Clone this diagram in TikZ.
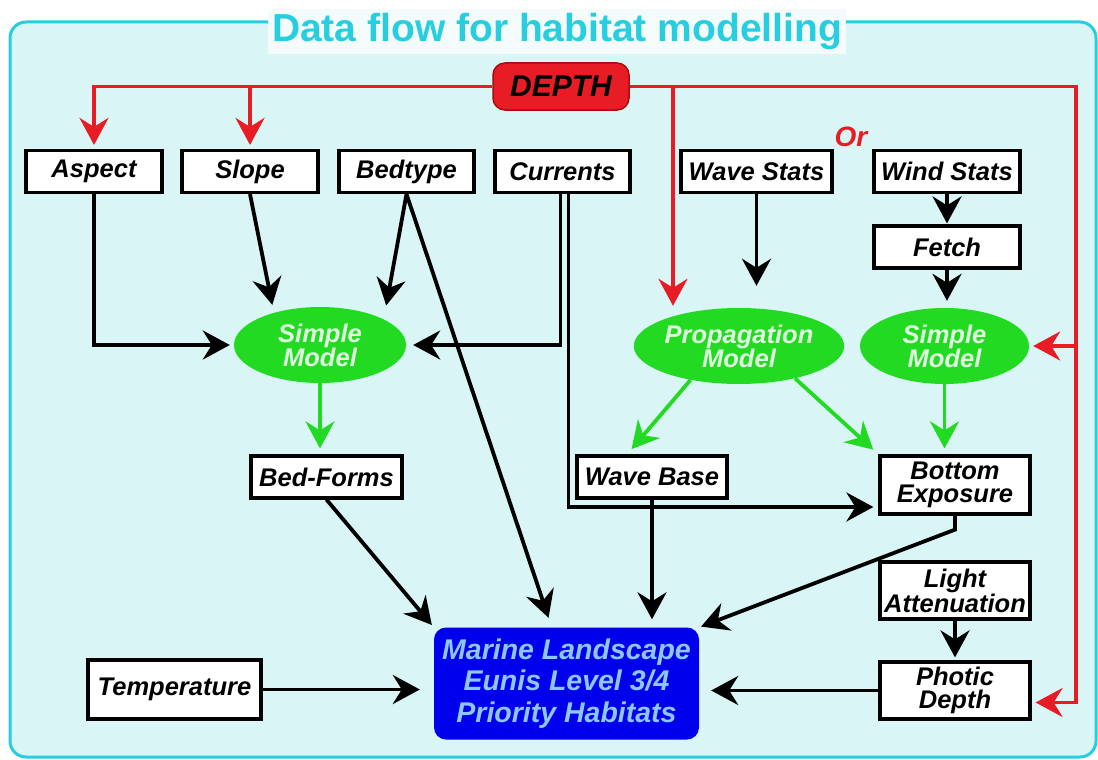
\documentclass[tikz,border=0pt]{standalone}
\usepackage{fontspec}
\setmainfont{Liberation Sans}
\usetikzlibrary{shapes.geometric,arrows.meta}

\definecolor{framecyan}{RGB}{38,206,224}
\definecolor{framefill}{RGB}{218,245,245}
\definecolor{titlebg}{RGB}{244,251,251}
\definecolor{depthred}{RGB}{232,28,36}
\definecolor{depthdark}{RGB}{170,10,15}
\definecolor{modelgreen}{RGB}{34,218,34}
\definecolor{modeltext}{RGB}{225,255,225}
\definecolor{marineblue}{RGB}{0,0,236}
\definecolor{marinetext}{RGB}{140,200,255}

\begin{document}
\begin{tikzpicture}[x=1pt, y=-1pt,
  box/.style={draw=black, line width=3.2pt, fill=white, inner sep=0pt,
    minimum height=42pt, align=center,
    font=\fontsize{25.5}{23}\selectfont\bfseries\itshape},
  model/.style={ellipse, fill=modelgreen, text=modeltext, inner sep=0pt,
    minimum width=172pt, minimum height=76pt, align=center,
    font=\fontsize{25.5}{24}\selectfont\bfseries\itshape},
  flow/.style={line width=3.8pt, -{Stealth[length=27pt,width=29pt,inset=9pt]}},
  depthflow/.style={flow, draw=depthred, line width=3.6pt},
  greenflow/.style={flow, draw=modelgreen}]

  \fill[white] (0,0) rectangle (1098,760);
  \useasboundingbox (0,0) rectangle (1098,760);
  \draw[framecyan, line width=3pt, fill=framefill, rounded corners=16pt]
    (10,22) rectangle (1096,757);
  \node[fill=titlebg, text=framecyan, inner sep=4pt, anchor=base,
    font=\fontsize{39}{44}\selectfont\bfseries] (title) at (557,41.5)
    {Data flow for habitat modelling};

  \node[box, fill=depthred, draw=depthdark, line width=1.5pt, rounded corners=12pt,
    minimum width=136pt, minimum height=47pt,
    font=\fontsize{30}{32}\selectfont\bfseries\itshape] (depth) at (561,86.5) {DEPTH};

  \node[box, minimum width=136pt] (aspect) at (94,171.5) {Aspect};
  \node[box, minimum width=136pt] (slope) at (250,171.5) {Slope};
  \node[box, minimum width=135pt] (bedtype) at (406.5,171.5) {Bedtype};
  \node[box, minimum width=135pt] (currents) at (562.5,171.5) {Currents};
  \node[box, minimum width=151pt] (wavestats) at (756.5,171.5) {Wave Stats};
  \node[box, minimum width=146pt] (windstats) at (947,171.5) {Wind Stats};
  \node[text=depthred, font=\fontsize{28}{30}\selectfont\bfseries\itshape] (or) at (851,137) {Or};
  \node[box, minimum width=146pt] (fetch) at (947,247) {Fetch};

  \node[model] (simpleL) at (320,345) {Simple\\Model};
  \node[model] (propagation) at (739,346) {Propagation\\Model};
  \node[model, minimum width=169pt] (simpleR) at (944.5,346) {Simple\\Model};

  \node[box, minimum width=151pt] (bedforms) at (326.5,477) {Bed-Forms};
  \node[box, minimum width=150pt] (wavebase) at (652,477) {Wave Base};
  \node[box, minimum width=150pt, minimum height=58pt] (exposure) at (955,485) {Bottom\\Exposure};
  \node[box, minimum width=150pt, minimum height=57pt] (light) at (955,590.5) {Light\\Attenuation};
  \node[box, minimum width=150pt, minimum height=57pt] (photic) at (955,690.5) {Photic\\Depth};
  \node[box, minimum width=173pt, minimum height=59pt] (temperature) at (174.5,689.5) {Temperature};

  \node[rounded corners=12pt, fill=marineblue, text=marinetext, inner sep=0pt,
    minimum width=265pt, minimum height=112pt, align=center,
    font=\fontsize{28.5}{31.5}\selectfont\bfseries\itshape] (marine) at (566.5,683.5)
    {Marine Landscape\\Eunis Level 3/4\\Priority Habitats};

  \coordinate (depthbranch) at (673,86.5);
  \coordinate (depthcorner) at (1076,86.5);
  \draw[depthflow, shorten >=4pt] (depth.west) -| (aspect.north);
  \draw[depthflow, shorten >=4pt] (slope.north |- depth.west) -- (slope.north);
  \draw[depthflow, shorten >=2pt] (depthbranch) -- (depthbranch |- propagation.north);
  \draw[depthflow, shorten >=4pt] (depth.east) -- (depthcorner) |- ([yshift=-12pt]photic.east);
  \draw[depthflow, shorten >=4pt] (depthcorner |- simpleR.east) -- (simpleR.east);

  \draw[flow, shorten >=4pt] (aspect.south) |- (simpleL.west);
  \draw[flow, shorten >=8pt] (slope.south) -- (simpleL.145);
  \draw[flow, shorten >=14pt] (bedtype.south) -- (simpleL.22);
  \draw[flow, shorten >=7pt] ([xshift=-2pt]currents.south) |- (simpleL.east);
  \draw[flow, shorten >=5pt] ([xshift=6pt]currents.south) |- ([yshift=-22pt]exposure.west);
  \draw[flow, shorten >=10pt] (bedtype.south) -- ([xshift=-14.8pt]marine.north);
  \draw[flow, shorten >=22pt] (wavestats.south) -- (wavestats.south |- propagation.north);
  \draw[flow, shorten >=1pt] (windstats.south) -- (fetch.north);
  \draw[flow, shorten >=7pt] (fetch.south) -- (fetch.south |- simpleR.north);
  \draw[flow, shorten >=3pt] (bedforms.south) -- (marine.north west);
  \draw[flow, shorten >=8pt] (wavebase.south) -- (wavebase.south |- marine.north);
  \draw[flow, shorten >=2pt] (exposure.south) -- ++(0,14) -- (marine.north east);
  \draw[flow, shorten >=3pt] (light.south) -- (photic.north);
  \draw[flow, shorten >=12pt] (photic.west) -- (photic.west -| marine.east);
  \draw[flow, shorten >=14pt] (temperature.east) -- (temperature.east -| marine.west);

  \draw[greenflow, shorten >=6pt] (simpleL.south) -- (simpleL.south |- bedforms.north);
  \draw[greenflow, shorten >=7pt] (propagation.215) -- ([xshift=-25pt]wavebase.north);
  \draw[greenflow, shorten >=7pt] (propagation.330) -- (exposure.north west);
  \draw[greenflow, shorten >=6pt] (simpleR.south) -- (simpleR.south |- exposure.north);
\end{tikzpicture}
\end{document}
